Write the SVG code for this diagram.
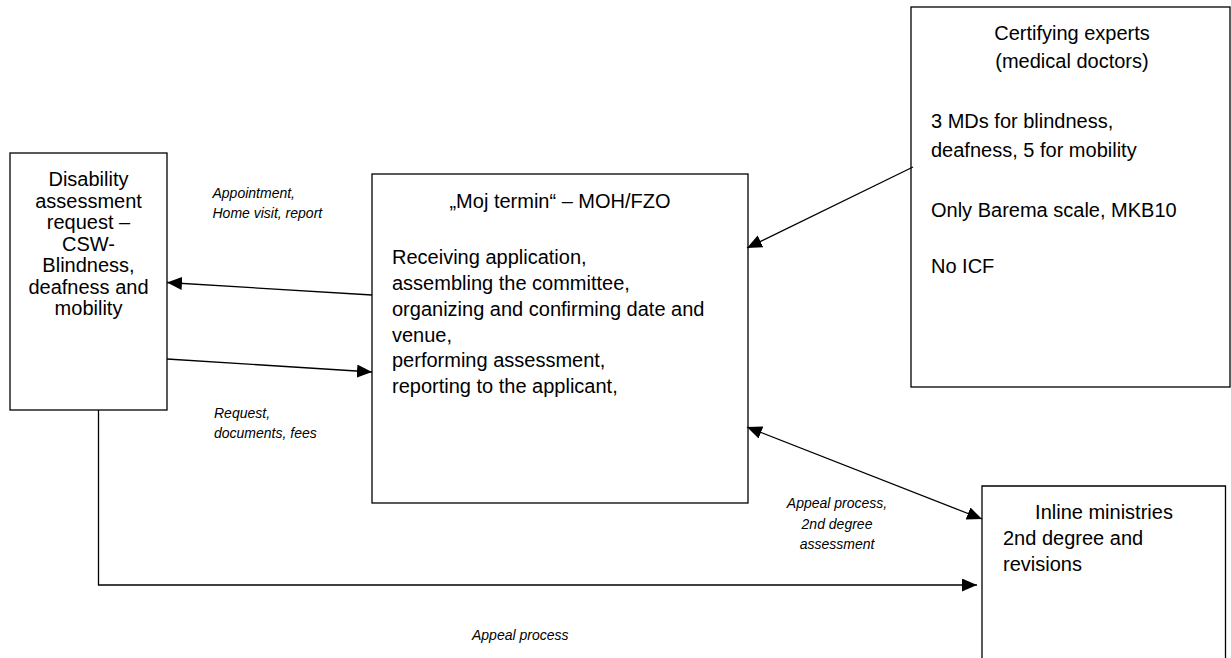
<svg xmlns="http://www.w3.org/2000/svg" width="1231" height="658" viewBox="0 0 1231 658">
<defs>
<style>
.box{fill:#fff;stroke:#000;stroke-width:1.3}
.t{font-family:"Liberation Sans",Arial,sans-serif;font-size:20px;fill:#000}
.c{text-anchor:middle}
.lbl{font-family:"Liberation Sans",Arial,sans-serif;font-size:14px;font-style:italic;fill:#000}
.edge{fill:none;stroke:#000;stroke-width:1.3}
</style>
<marker id="ah" markerUnits="userSpaceOnUse" markerWidth="16" markerHeight="14" refX="15" refY="6.5" orient="auto-start-reverse">
<path d="M0,0 L15,6.5 L0,13 z" fill="#000"/>
</marker>
</defs>
<rect width="1231" height="658" fill="#fff"/>

<g id="node-csw">
<rect class="box" x="10" y="153" width="157" height="257"/>
<text class="t c" x="88.5" y="186">Disability</text>
<text class="t c" x="88.5" y="207.5">assessment</text>
<text class="t c" x="88.5" y="229">request –</text>
<text class="t c" x="88.5" y="250.5">CSW-</text>
<text class="t c" x="88.5" y="272">Blindness,</text>
<text class="t c" x="88.5" y="293.5">deafness and</text>
<text class="t c" x="88.5" y="315">mobility</text>
</g>

<g id="node-moj">
<rect class="box" x="372" y="174" width="376" height="329"/>
<text class="t c" x="560" y="208">„Moj termin“ – MOH/FZO</text>
<text class="t" x="392" y="264">Receiving application,</text>
<text class="t" x="392" y="290">assembling the committee,</text>
<text class="t" x="392" y="316">organizing and confirming date and</text>
<text class="t" x="392" y="342">venue,</text>
<text class="t" x="392" y="367">performing assessment,</text>
<text class="t" x="392" y="393">reporting to the applicant,</text>
</g>

<g id="node-experts">
<rect class="box" x="911" y="7" width="319" height="380"/>
<text class="t c" x="1072" y="40">Certifying experts</text>
<text class="t c" x="1072" y="68">(medical doctors)</text>
<text class="t" x="931" y="128">3 MDs for blindness,</text>
<text class="t" x="931" y="157">deafness, 5 for mobility</text>
<text class="t" x="931" y="217">Only Barema scale, MKB10</text>
<text class="t" x="931" y="273">No ICF</text>
</g>

<g id="node-ministries">
<path class="box" d="M982,670 L982,486 L1225.5,486 L1225.5,670"/>
<text class="t c" x="1104" y="519">Inline ministries</text>
<text class="t" x="1003" y="545">2nd degree and</text>
<text class="t" x="1003" y="571">revisions</text>
</g>

<g id="connectors">
<line class="edge" x1="372" y1="295" x2="167" y2="282.5" marker-end="url(#ah)"/>
<line class="edge" x1="167" y1="359" x2="372" y2="372" marker-end="url(#ah)"/>
<line class="edge" x1="913" y1="167" x2="747" y2="248" marker-end="url(#ah)"/>
<line class="edge" x1="747" y1="427" x2="982" y2="519" marker-start="url(#ah)" marker-end="url(#ah)"/>
<polyline class="edge" points="98.5,410 98.5,585 977,585" marker-end="url(#ah)"/>
</g>

<g id="labels">
<text class="lbl" x="212.5" y="197.5">Appointment,</text>
<text class="lbl" x="212.5" y="218.3">Home visit, report</text>
<text class="lbl" x="214" y="417.5">Request,</text>
<text class="lbl" x="214" y="437.5">documents, fees</text>
<text class="lbl c" x="837" y="508">Appeal process,</text>
<text class="lbl c" x="837" y="528.5">2nd degree</text>
<text class="lbl c" x="837" y="549">assessment</text>
<text class="lbl" x="472" y="640">Appeal process</text>
</g>
</svg>
